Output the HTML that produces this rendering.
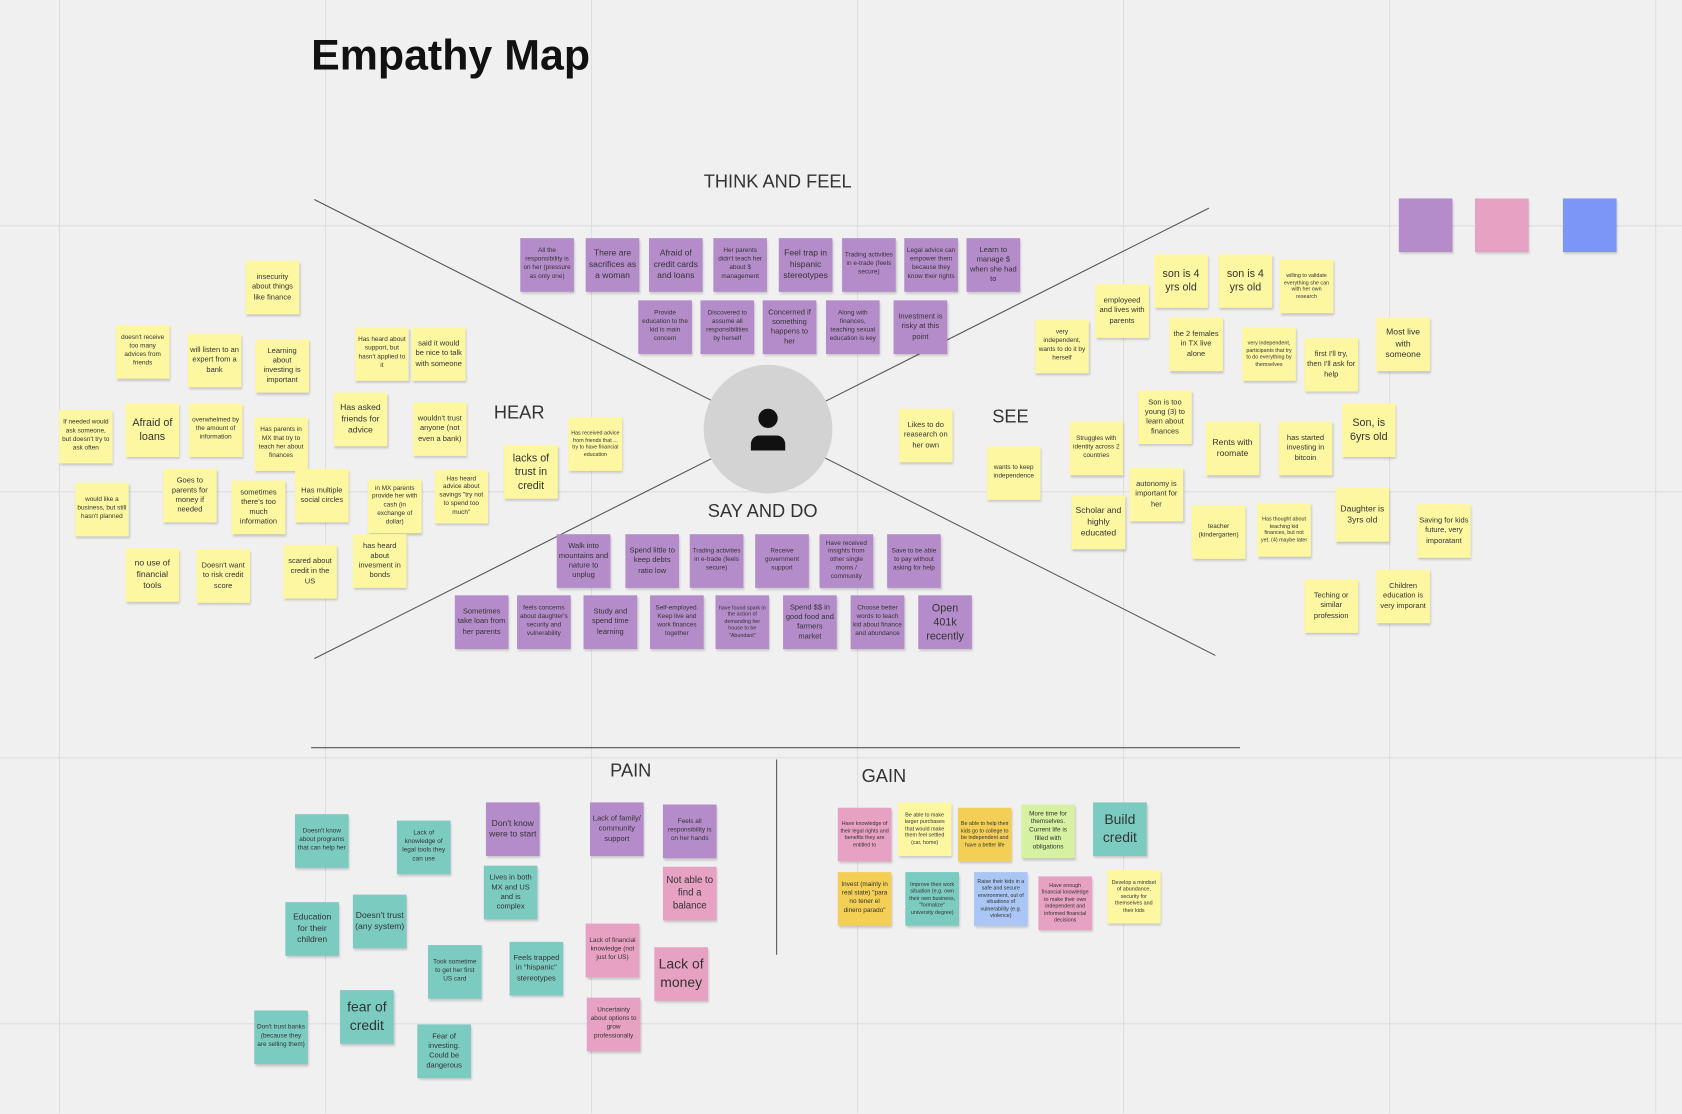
<!DOCTYPE html>
<html><head><meta charset="utf-8"><style>
html,body{margin:0;padding:0;width:1682px;height:1114px;overflow:hidden;background:#f0f0f0}
#c{position:absolute;left:0;top:0;width:1568px;height:1038px;transform:scale(1.07270);transform-origin:0 0;
background-color:#f0f0f0;
background-image:linear-gradient(to right,#dcdcdc 1px,transparent 1px),linear-gradient(to bottom,#dcdcdc 1px,transparent 1px);
background-size:248px 248px;background-position:55px -38px;font-family:"Liberation Sans",sans-serif}
.s{position:absolute;width:50px;height:50px;display:flex;align-items:center;justify-content:center;text-align:center;
font-size:6px;line-height:1.3;color:#333;box-shadow:1px 2px 2px rgba(0,0,0,.18);box-sizing:border-box;padding:2px;overflow:hidden}
.y{background:#fdf7a2}.p{background:#b58cca}.k{background:#e7a1c2}.t{background:#7ccbc1}.o{background:#f3cf55}.g{background:#d6f1a2}.b{background:#a9c6f4}
.m{font-size:8px}.l{font-size:10px}.x{font-size:13px}
.lb{position:absolute;font-size:17px;color:#333;transform:translate(-50%,-50%);white-space:nowrap}
</style></head><body><div id="c">
<div style="position:absolute;left:290px;top:30px;font-size:40px;font-weight:bold;color:#111">Empathy Map</div>
<svg width="1568" height="1038" style="position:absolute;left:0;top:0">
<line x1="293" y1="186" x2="1133" y2="611" stroke="#555" stroke-width="1"/>
<line x1="1127" y1="194" x2="293" y2="614" stroke="#555" stroke-width="1"/>
<line x1="290" y1="697" x2="1156" y2="697" stroke="#555" stroke-width="1"/>
<line x1="724" y1="708" x2="724" y2="890" stroke="#555" stroke-width="1"/>
<circle cx="716" cy="400" r="60" fill="#d3d3d3"/>
<circle cx="716" cy="390" r="9" fill="#111"/>
<path d="M700 420 v-6 a8 8 0 0 1 8 -8 h16 a8 8 0 0 1 8 8 v6 z" fill="#111"/>
</svg>
<div class="lb" style="left:725px;top:170px">THINK AND FEEL</div>
<div class="lb" style="left:484px;top:385px">HEAR</div>
<div class="lb" style="left:942px;top:389px">SEE</div>
<div class="lb" style="left:711px;top:477px">SAY AND DO</div>
<div class="lb" style="left:588px;top:719px">PAIN</div>
<div class="lb" style="left:824px;top:724px">GAIN</div>

<div class="s p" style="left:1304px;top:185px"></div>
<div class="s k" style="left:1375px;top:185px"></div>
<div class="s" style="left:1457px;top:185px;background:#7b96f7"></div>

<!-- think and feel -->
<div class="s p" style="left:485px;top:222px">All the responsibility is on her (pressure as only one)</div>
<div class="s p m" style="left:546px;top:222px">There are sacrifices as a woman</div>
<div class="s p m" style="left:605px;top:222px">Afraid of credit cards and loans</div>
<div class="s p" style="left:665px;top:222px">Her parents didn't teach her about $ management</div>
<div class="s p m" style="left:726px;top:222px">Feel trap in hispanic stereotypes</div>
<div class="s p" style="left:785px;top:222px">Trading activities in e-trade (feels secure)</div>
<div class="s p" style="left:843px;top:222px">Legal advice can empower them because they know their rights</div>
<div class="s p" style="left:901px;top:222px;font-size:7px">Learn to manage $ when she had to</div>
<div class="s p" style="left:595px;top:280px">Provide education to the kid is main concern</div>
<div class="s p" style="left:653px;top:280px">Discovered to assume all responsibilities by herself</div>
<div class="s p" style="left:711px;top:280px;font-size:7px">Concerned if something happens to her</div>
<div class="s p" style="left:770px;top:280px">Along with finances, teaching sexual education is key</div>
<div class="s p" style="left:833px;top:280px;font-size:7px">Investment is risky at this point</div>

<!-- hear -->
<div class="s y" style="left:229px;top:243px;font-size:7px">insecurity about things like finance</div>
<div class="s y" style="left:108px;top:303px">doesn't receive too many advices from friends</div>
<div class="s y" style="left:175px;top:311px;font-size:7px">will listen to an expert from a bank</div>
<div class="s y" style="left:238px;top:316px;font-size:7px">Learning about investing is important</div>
<div class="s y" style="left:331px;top:305px">Has heard about support, but hasn't applied to it</div>
<div class="s y" style="left:384px;top:305px;font-size:7px">said it would be nice to talk with someone</div>
<div class="s y" style="left:55px;top:382px">If needed would ask someone, but doesn't try to ask often</div>
<div class="s y l" style="left:117px;top:376px">Afraid of loans</div>
<div class="s y" style="left:176px;top:376px">overwhelmed by the amount of information</div>
<div class="s y" style="left:237px;top:389px">Has parents in MX that try to teach her about finances</div>
<div class="s y m" style="left:311px;top:366px">Has asked friends for advice</div>
<div class="s y" style="left:385px;top:375px;font-size:7px">wouldn't trust anyone (not even a bank)</div>
<div class="s y l" style="left:470px;top:415px">lacks of trust in credit</div>
<div class="s y" style="left:530px;top:389px;font-size:5px">Has received advice from friends that ... try to have financial education</div>
<div class="s y" style="left:152px;top:437px;font-size:7px">Goes to parents for money if needed</div>
<div class="s y" style="left:216px;top:448px;font-size:7px">sometimes there's too much information</div>
<div class="s y" style="left:275px;top:437px;font-size:7px">Has multiple social circles</div>
<div class="s y" style="left:70px;top:450px">would like a business, but still hasn't planned</div>
<div class="s y" style="left:343px;top:447px">in MX parents provide her with cash (in exchange of dollar)</div>
<div class="s y" style="left:405px;top:438px">Has heard advice about savings "try not to spend too much"</div>
<div class="s y m" style="left:117px;top:511px">no use of financial tools</div>
<div class="s y" style="left:183px;top:512px;font-size:7px">Doesn't want to risk credit score</div>
<div class="s y" style="left:264px;top:508px;font-size:7px">scared about credit in the US</div>
<div class="s y" style="left:329px;top:498px;font-size:7px">has heard about invesment in bonds</div>

<!-- say and do -->
<div class="s p" style="left:519px;top:498px;font-size:7px">Walk into mountains and nature to unplug</div>
<div class="s p" style="left:583px;top:498px;font-size:7px">Spend little to keep debts ratio low</div>
<div class="s p" style="left:643px;top:498px">Trading activities in e-trade (feels secure)</div>
<div class="s p" style="left:704px;top:498px">Receive government support</div>
<div class="s p" style="left:764px;top:498px">Have received insights from other single moms / community</div>
<div class="s p" style="left:827px;top:498px">Save to be able to pay without asking for help</div>
<div class="s p" style="left:424px;top:555px;font-size:7px">Sometimes take loan from her parents</div>
<div class="s p" style="left:482px;top:555px">feels concerns about daughter's security and vulnerability</div>
<div class="s p" style="left:544px;top:555px;font-size:7px">Study and spend time learning</div>
<div class="s p" style="left:606px;top:555px">Self-employed. Keep live and work finances together</div>
<div class="s p" style="left:667px;top:555px;font-size:5px">have found spark in the action of demanding her house to be "Abundant"</div>
<div class="s p" style="left:730px;top:555px;font-size:7px">Spend $$ in good food and farmers market</div>
<div class="s p" style="left:793px;top:555px">Choose better words to teach kid about finance and abundance</div>
<div class="s p l" style="left:856px;top:555px">Open 401k recently</div>

<!-- see -->
<div class="s y" style="left:1021px;top:265px;font-size:7px">employeed and lives with parents</div>
<div class="s y l" style="left:1076px;top:237px">son is 4 yrs old</div>
<div class="s y l" style="left:1136px;top:237px">son is 4 yrs old</div>
<div class="s y" style="left:1193px;top:242px;font-size:5px">willing to validate everything she can with her own research</div>
<div class="s y" style="left:965px;top:298px">very independent, wants to do it by herself</div>
<div class="s y" style="left:1090px;top:296px;font-size:7px">the 2 females in TX live alone</div>
<div class="s y" style="left:1158px;top:305px;font-size:5px">very independent, participants that try to do everything by themselves</div>
<div class="s y" style="left:1216px;top:315px;font-size:7px">first I'll try, then I'll ask for help</div>
<div class="s y m" style="left:1283px;top:296px">Most live with someone</div>
<div class="s y" style="left:838px;top:381px;font-size:7px">Likes to do reasearch on her own</div>
<div class="s y" style="left:1061px;top:364px;font-size:7px">Son is too young (3) to learn about finances</div>
<div class="s y" style="left:997px;top:393px">Struggles with identity across 2 countries</div>
<div class="s y m" style="left:1124px;top:393px">Rents with roomate</div>
<div class="s y" style="left:1192px;top:393px;font-size:7px">has started investing in bitcoin</div>
<div class="s y l" style="left:1251px;top:376px">Son, is 6yrs old</div>
<div class="s y" style="left:920px;top:416px">wants to keep independence</div>
<div class="s y" style="left:1053px;top:436px;font-size:7px">autonomy is important for her</div>
<div class="s y m" style="left:999px;top:462px">Scholar and highly educated</div>
<div class="s y" style="left:1111px;top:471px">teacher (kindergarten)</div>
<div class="s y" style="left:1172px;top:469px;font-size:5px">Has thought about teaching kid finances, but not yet. (4) maybe later</div>
<div class="s y m" style="left:1245px;top:455px">Daughter is 3yrs old</div>
<div class="s y" style="left:1321px;top:470px;font-size:7px">Saving for kids future, very imporatant</div>
<div class="s y" style="left:1283px;top:531px;font-size:7px">Children education is very imporant</div>
<div class="s y" style="left:1216px;top:540px;font-size:7px">Teching or similar profession</div>

<!-- pain -->
<div class="s t" style="left:275px;top:759px">Doesn't know about programs that can help her</div>
<div class="s t" style="left:370px;top:765px">Lack of knowledge of legal tools they can use</div>
<div class="s p m" style="left:453px;top:748px">Don't know were to start</div>
<div class="s p" style="left:550px;top:748px;font-size:7px">Lack of family/ community support</div>
<div class="s p" style="left:618px;top:750px">Feels all responsibility is on her hands</div>
<div class="s t" style="left:451px;top:807px;font-size:7px">Lives in both MX and US and is complex</div>
<div class="s k" style="left:618px;top:808px;font-size:9px">Not able to find a balance</div>
<div class="s t m" style="left:266px;top:841px">Education for their children</div>
<div class="s t m" style="left:329px;top:834px">Doesn't trust (any system)</div>
<div class="s k" style="left:546px;top:861px">Lack of financial knowledge (not just for US)</div>
<div class="s k x" style="left:610px;top:883px">Lack of money</div>
<div class="s t" style="left:399px;top:881px">Took sometime to get her first US card</div>
<div class="s t" style="left:475px;top:878px;font-size:7px">Feels trapped in "hispanic" stereotypes</div>
<div class="s t x" style="left:317px;top:923px">fear of credit</div>
<div class="s t" style="left:237px;top:942px">Don't trust banks (because they are selling them)</div>
<div class="s t" style="left:389px;top:955px;font-size:7px">Fear of investing. Could be dangerous</div>
<div class="s k" style="left:547px;top:930px">Uncertainty about options to grow professionally</div>

<!-- gain -->
<div class="s k" style="left:781px;top:753px;font-size:5px">Have knowledge of their legal rights and benefits they are entitled to</div>
<div class="s y" style="left:837px;top:748px;font-size:5px">Be able to make larger purchases that would make them feel settled (car, home)</div>
<div class="s o" style="left:893px;top:753px;font-size:5px">Be able to help their kids go to college to be independent and have a better life</div>
<div class="s g" style="left:952px;top:750px">More time for themselves. Current life is filled with obligations</div>
<div class="s t x" style="left:1019px;top:748px">Build credit</div>
<div class="s o" style="left:781px;top:813px">Invest (mainly in real state) "para no tener el dinero parado"</div>
<div class="s t" style="left:844px;top:813px;font-size:5px">Improve their work situation (e.g. own their own business, "formalize" university degree)</div>
<div class="s b" style="left:908px;top:813px;font-size:5px">Raise their kids in a safe and secure environment, out of situations of vulnerability (e.g. violence)</div>
<div class="s k" style="left:968px;top:817px;font-size:5px">Have enough financial knowledge to make their own independent and informed financial decisions</div>
<div class="s y" style="left:1032px;top:811px;font-size:5px">Develop a mindset of abundance, security for themselves and their kids</div>
</div></body></html>
